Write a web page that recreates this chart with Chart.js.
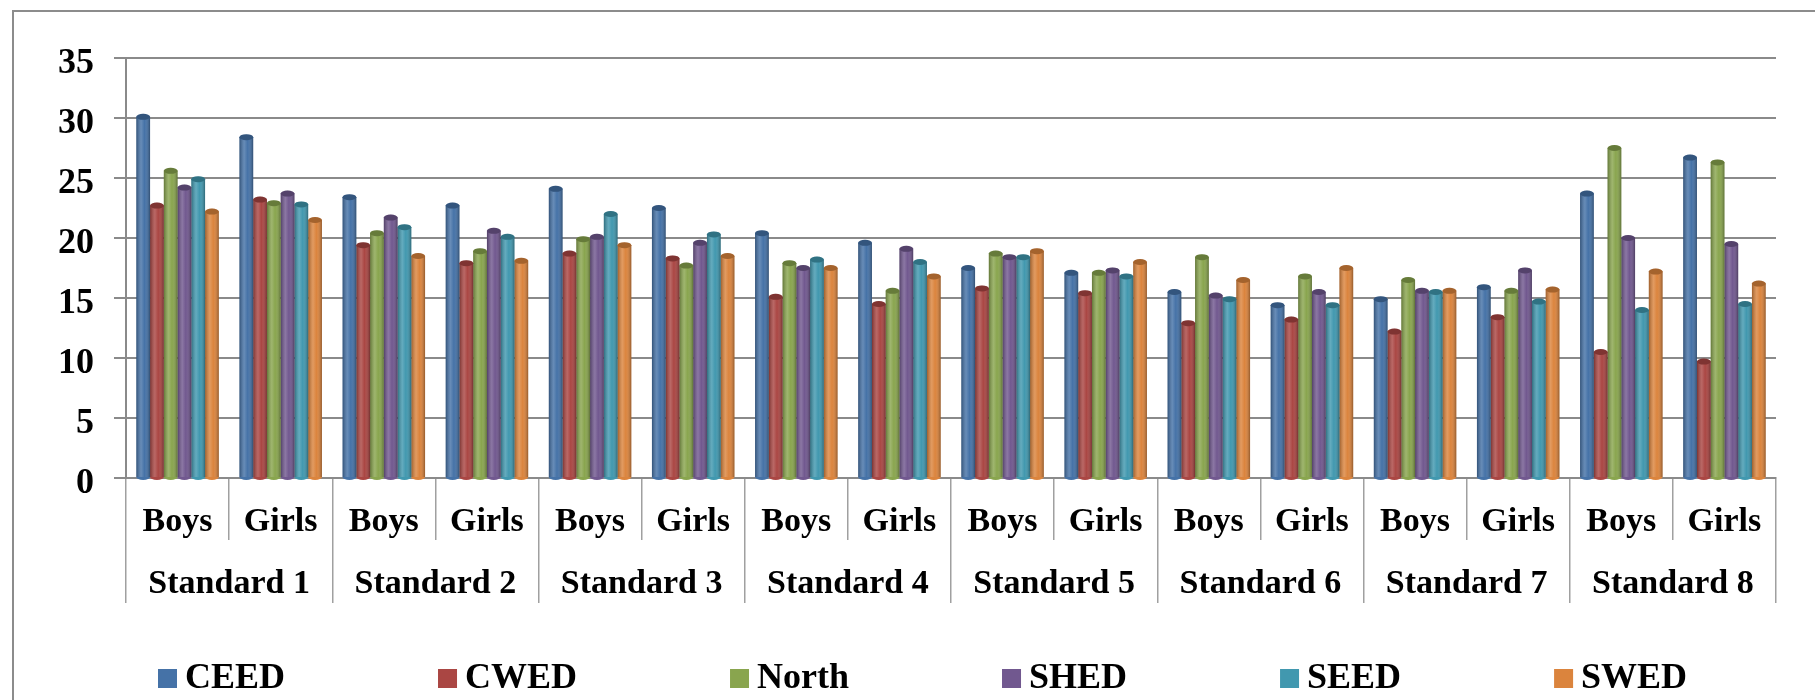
<!DOCTYPE html>
<html>
<head>
<meta charset="utf-8">
<title>Enrolment by standard and sex</title>
<script src="https://cdn.jsdelivr.net/npm/chart.js@4.4.1/dist/chart.umd.min.js"></script>
<style>
  html, body { margin: 0; padding: 0; background: #fff; }
  #wrap { width: 1815px; height: 700px; }
</style>
</head>
<body>
<div id="wrap"><canvas id="chart" width="1815" height="700"></canvas></div>
<script>
// categories
const sexLabels = ['Boys', 'Girls', 'Boys', 'Girls', 'Boys', 'Girls', 'Boys', 'Girls',
                   'Boys', 'Girls', 'Boys', 'Girls', 'Boys', 'Girls', 'Boys', 'Girls'];
const standardLabels = ['Standard 1', 'Standard 2', 'Standard 3', 'Standard 4',
                        'Standard 5', 'Standard 6', 'Standard 7', 'Standard 8'];
const yTicks = [0, 5, 10, 15, 20, 25, 30, 35];

// series
const ceed  = [30.1, 28.4, 23.4, 22.7, 24.1, 22.5, 20.4, 19.6, 17.5, 17.1, 15.5, 14.4, 14.9, 15.9, 23.7, 26.7];
const cwed  = [22.7, 23.2, 19.4, 17.9, 18.7, 18.3, 15.1, 14.5, 15.8, 15.4, 12.9, 13.2, 12.2, 13.4, 10.5, 9.7];
const north = [25.6, 22.9, 20.4, 18.9, 19.9, 17.7, 17.9, 15.6, 18.7, 17.1, 18.4, 16.8, 16.5, 15.6, 27.5, 26.3];
const shed  = [24.2, 23.7, 21.7, 20.6, 20.1, 19.6, 17.5, 19.1, 18.4, 17.3, 15.2, 15.5, 15.6, 17.3, 20.0, 19.5];
const seed  = [24.9, 22.8, 20.9, 20.1, 22.0, 20.3, 18.2, 18.0, 18.4, 16.8, 14.9, 14.4, 15.5, 14.7, 14.0, 14.5];
const swed  = [22.2, 21.5, 18.5, 18.1, 19.4, 18.5, 17.5, 16.8, 18.9, 18.0, 16.5, 17.5, 15.6, 15.7, 17.2, 16.2];

const seriesNames = ['CEED', 'CWED', 'North', 'SHED', 'SEED', 'SWED'];
const seriesData = [ceed, cwed, north, shed, seed, swed];
const colors = ['#4572A7', '#AA4643', '#89A54E', '#71588F', '#4198AF', '#DB843D'];

const FONT = "'Liberation Serif', 'Times New Roman', serif";
const GRID = '#8a8a8a';
const DIVIDER = '#a0a0a0';

/* outer frame of the chart object */
const framePlugin = {
  id: 'frame',
  beforeDraw(chart) {
    const { ctx } = chart;
    ctx.save();
    ctx.fillStyle = '#fff';
    ctx.fillRect(0, 0, chart.width, chart.height);
    ctx.strokeStyle = '#8c8c8c';
    ctx.lineWidth = 2;
    ctx.strokeRect(13, 11, chart.width + 20, chart.height + 20);
    ctx.restore();
  },
};

/* cylinder shading on top of each bar */
const cylinderPlugin = {
  id: 'cylinder',
  afterDatasetsDraw(chart) {
    const { ctx } = chart;
    ctx.save();
    chart.data.datasets.forEach((ds, i) => {
      const meta = chart.getDatasetMeta(i);
      meta.data.forEach((bar) => {
        const { x, y, base, width } = bar.getProps(['x', 'y', 'base', 'width'], true);
        const left = x - width / 2;
        const g = ctx.createLinearGradient(left, 0, left + width, 0);
        g.addColorStop(0, 'rgba(0,0,0,0.28)');
        g.addColorStop(0.35, 'rgba(255,255,255,0.18)');
        g.addColorStop(0.6, 'rgba(255,255,255,0)');
        g.addColorStop(1, 'rgba(0,0,0,0.32)');
        ctx.fillStyle = g;
        ctx.fillRect(left, y, width, base - y);
        // top cap
        ctx.beginPath();
        ctx.ellipse(x, y, width / 2, 3, 0, 0, Math.PI * 2);
        ctx.fillStyle = ds.backgroundColor;
        ctx.fill();
        ctx.fillStyle = 'rgba(0,0,0,0.25)';
        ctx.fill();
        // bottom rounding
        ctx.beginPath();
        ctx.ellipse(x, base, width / 2, 3, 0, 0, Math.PI);
        ctx.fillStyle = ds.backgroundColor;
        ctx.fill();
      });
    });
    ctx.restore();
  },
};

/* legend along the bottom, Excel style */
const legendPlugin = {
  id: 'bottomLegend',
  afterDraw(chart) {
    const { ctx } = chart;
    ctx.save();
    ctx.font = `bold 36px ${FONT}`;
    ctx.textBaseline = 'middle';
    ctx.textAlign = 'left';
    let x = 158;
    const cy = 678;
    chart.data.datasets.forEach((ds) => {
      ctx.fillStyle = ds.backgroundColor;
      ctx.fillRect(x, cy - 9, 19, 19);
      ctx.fillStyle = '#000';
      ctx.fillText(ds.label, x + 27, cy + 1);
      x += 27 + ctx.measureText(ds.label).width + 153;
    });
    ctx.restore();
  },
};

new Chart(document.getElementById('chart'), {
  type: 'bar',
  data: {
    labels: sexLabels,
    datasets: seriesNames.map((name, i) => ({
      label: name,
      data: seriesData[i],
      backgroundColor: colors[i],
      borderWidth: 0,
      categoryPercentage: 0.8,
      barPercentage: 1.0,
    })),
  },
  options: {
    responsive: false,
    animation: false,
    layout: { padding: { top: 58, right: 39, bottom: 97, left: 0 } },
    plugins: {
      legend: { display: false },
      tooltip: { enabled: false },
    },
    scales: {
      x: {
        type: 'category',
        offset: true,
        grid: {
          offset: true,
          drawOnChartArea: false,
          tickLength: 62,
          color: DIVIDER,
          lineWidth: 1.5,
        },
        border: { display: true, color: GRID, width: 2 },
        ticks: {
          color: '#000',
          font: { family: FONT, size: 34, weight: 'bold' },
          padding: -38,
          maxRotation: 0,
          autoSkip: false,
        },
        afterFit(scale) { scale.height = 62; },
      },
      x2: {
        type: 'category',
        position: 'bottom',
        weight: 1,
        labels: standardLabels,
        offset: true,
        grid: {
          offset: true,
          drawOnChartArea: false,
          tickLength: 63,
          color: DIVIDER,
          lineWidth: 1.5,
        },
        border: { display: false },
        ticks: {
          color: '#000',
          font: { family: FONT, size: 34, weight: 'bold' },
          padding: -39,
          maxRotation: 0,
          autoSkip: false,
        },
        afterFit(scale) { scale.height = 63; },
      },
      y: {
        min: 0,
        max: 35,
        afterBuildTicks(scale) { scale.ticks = yTicks.map((v) => ({ value: v })); },
        grid: { color: GRID, lineWidth: 2, tickLength: 12 },
        border: { display: true, color: GRID, width: 2 },
        ticks: {
          color: '#000',
          font: { family: FONT, size: 36, weight: 'bold' },
          padding: 20,
          labelOffset: 6,
        },
        afterFit(scale) { scale.width = 126; },
      },
    },
  },
  plugins: [framePlugin, cylinderPlugin, legendPlugin],
});
</script>
</body>
</html>
